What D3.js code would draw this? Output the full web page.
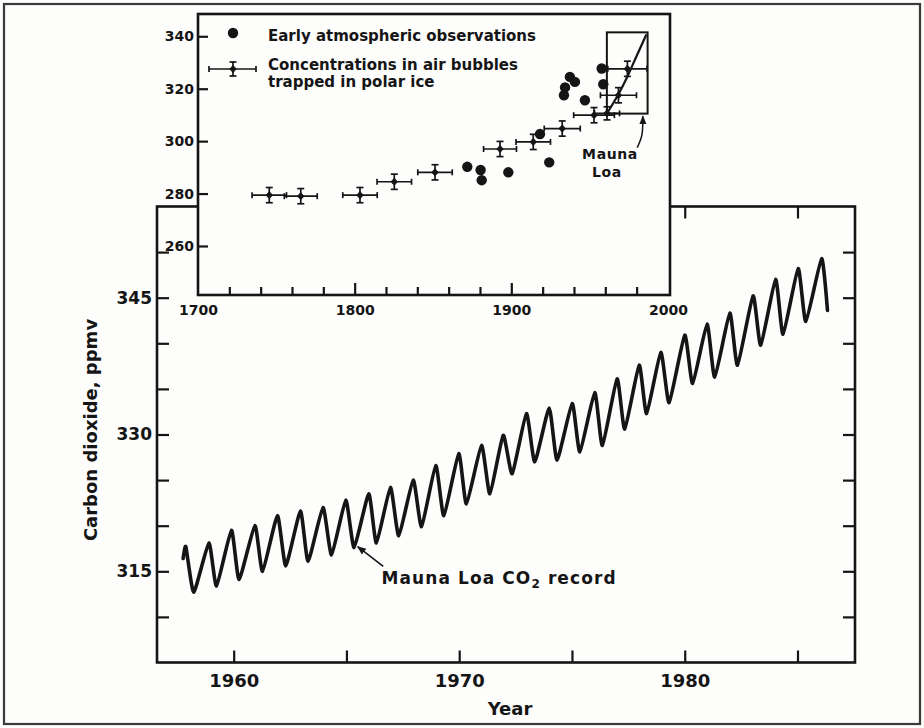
<!DOCTYPE html>
<html><head><meta charset="utf-8">
<script src="https://cdn.jsdelivr.net/npm/d3@7"></script>
<style>
html,body{margin:0;padding:0;background:#fdfdfc;}
svg{display:block;}
text{font-family:'DejaVu Sans',sans-serif;font-weight:bold;fill:#151515;}
</style></head><body>
<svg id="chart" width="924" height="728"></svg>
<script>
// ---------- Main chart data (Mauna Loa record) ----------
const mainYears = [1957.76, 1957.88, 1958.23, 1958.90, 1959.24, 1959.90, 1960.24, 1960.94, 1961.28, 1961.94,
  1962.31, 1962.96, 1963.30, 1963.96, 1964.34, 1964.97, 1965.34, 1965.99, 1966.33, 1966.95,
  1967.32, 1967.96, 1968.33, 1968.96, 1969.32, 1969.98, 1970.32, 1970.99, 1971.36, 1971.95,
  1972.35, 1972.98, 1973.35, 1973.99, 1974.34, 1975.01, 1975.35, 1976.01, 1976.35, 1977.00,
  1977.34, 1977.98, 1978.31, 1978.94, 1979.31, 1980.00, 1980.35, 1980.99, 1981.33, 1982.00,
  1982.34, 1983.03, 1983.37, 1984.03, 1984.36, 1985.03, 1985.37, 1986.07, 1986.33];
const mainCO2 = [316.4, 317.7, 312.7, 318.1, 313.4, 319.5, 314.1, 320.0, 315.0, 321.1,
  315.6, 321.6, 316.1, 322.0, 316.8, 322.8, 317.6, 323.5, 318.1, 324.2,
  318.9, 325.0, 319.9, 326.6, 321.1, 327.9, 322.4, 328.8, 323.5, 329.9,
  325.7, 332.3, 327.0, 332.9, 327.2, 333.4, 328.1, 334.6, 328.8, 336.1,
  330.6, 337.6, 332.3, 339.0, 333.5, 340.9, 335.6, 342.1, 336.3, 343.3,
  337.6, 345.2, 339.8, 347.0, 341.0, 348.2, 342.4, 349.3, 343.6];
const mainYTicks = [310, 315, 320, 325, 330, 335, 340, 345, 350];
const mainYLabels = [315, 330, 345];
const mainXTicks = [1960, 1965, 1970, 1975, 1980, 1985];
const mainXLabels = [1960, 1970, 1980];
const mainAnnotation = "Mauna Loa CO";
const mainAnnotationSub = "2";
const mainAnnotationEnd = " record";
const mainArrow = [[1966.63, 315.55], [1965.5, 317.7]];
const mainAnnotationAt = [1966.55, 313.6];

// ---------- Inset data ----------
const iceYears = [1745.5, 1765.6, 1803.4, 1825.3, 1851.3, 1892.8, 1914.0, 1932.5, 1952.8, 1961.1, 1968.4, 1974.1];
const iceCO2   = [279.4, 279.0, 279.4, 284.5, 288.1, 297.0, 299.7, 304.8, 309.9, 310.6, 317.5, 327.6];
const iceXErr  = [11, 10.5, 11, 11, 11, 10.5, 11, 11.5, 13, 8, 11.5, 12.5];
const iceYErr  = [2.9, 2.9, 2.9, 2.9, 2.9, 2.9, 2.9, 2.9, 2.9, 2.5, 2.9, 2.9];
const obsYears = [1871.9, 1880.4, 1881.1, 1898.1, 1918.3, 1924.2, 1934.3, 1937.4, 1940.6, 1933.6, 1947.0, 1957.7, 1958.7];
const obsCO2   = [290.2, 289.0, 285.1, 288.1, 302.7, 291.9, 320.5, 324.5, 322.6, 317.5, 315.6, 327.7, 321.7];
const mlTrendYears = [1961.5, 1968, 1974, 1980, 1986.2];
const mlTrendCO2   = [311, 317.5, 324.5, 332.5, 340.7];
const mlBoxYears = [1961, 1987];
const mlBoxCO2 = [310.5, 341.5];
const mlArrow = [[1980.3, 297.5], [1983.4, 302.5], [1984.0, 309.5]];
const mlLabelLines = ["Mauna", "Loa"];
const mlLabelAt = [[1963, 293.1], [1961, 286.3]];
const insetYTicks = [260, 280, 300, 320, 340];
const insetXMinor = [1720, 1740, 1760, 1780, 1820, 1840, 1860, 1880, 1920, 1940, 1960, 1980];
const insetXMajor = [1800, 1900];
const insetXLabels = [1700, 1800, 1900, 2000];
const legendLabels = ["Early atmospheric observations", "Concentrations in air bubbles", "trapped in polar ice"];

// ---------- Drawing ----------
const ink = "#151515";
const svg = d3.select("#chart");
const defs = svg.append("defs");
defs.append("marker").attr("id", "ah").attr("viewBox", "0 0 10 10")
  .attr("refX", 9).attr("refY", 5).attr("markerWidth", 9).attr("markerHeight", 9)
  .attr("markerUnits", "userSpaceOnUse").attr("orient", "auto")
  .append("path").attr("d", "M0,1 L10,5 L0,9 z").attr("fill", ink);

svg.append("rect").attr("x", 4).attr("y", 4).attr("width", 916).attr("height", 720)
  .attr("fill", "#fdfdfc").attr("stroke", "#3a3a3a").attr("stroke-width", 2.2);

// main scales
const x = d3.scaleLinear().domain([1956.6, 1987.55]).range([157, 855]);
const y = d3.scaleLinear().domain([305, 355]).range([662.5, 206.5]);
const main = svg.append("g");

function styleAxis(g, size) {
  g.select(".domain").remove();
  g.attr("color", ink).attr("font-size", size);
  g.selectAll("line").attr("stroke-width", 2.2);
}

main.append("g").attr("transform", `translate(${x.range()[0]},0)`)
  .call(d3.axisLeft(y).tickValues(mainYTicks).tickSizeInner(-12).tickSizeOuter(0).tickPadding(5)
    .tickFormat(d => mainYLabels.includes(d) ? d : ""))
  .call(g => styleAxis(g, 17));
main.append("g").attr("transform", `translate(${x.range()[1]},0)`)
  .call(d3.axisRight(y).tickValues(mainYTicks).tickSizeInner(-12).tickSizeOuter(0).tickFormat(""))
  .call(g => styleAxis(g, 17));
main.append("g").attr("transform", `translate(0,${y.range()[0]})`)
  .call(d3.axisBottom(x).tickValues(mainXTicks).tickSizeInner(-12).tickSizeOuter(0).tickPadding(12)
    .tickFormat(d => mainXLabels.includes(d) ? d : ""))
  .call(g => styleAxis(g, 18));
main.append("g").attr("transform", `translate(0,${y.range()[1]})`)
  .call(d3.axisTop(x).tickValues(mainXTicks).tickSizeInner(-12).tickSizeOuter(0).tickFormat(""))
  .call(g => styleAxis(g, 18));

main.append("rect").attr("x", x.range()[0]).attr("y", y.range()[1])
  .attr("width", x.range()[1] - x.range()[0]).attr("height", y.range()[0] - y.range()[1])
  .attr("fill", "none").attr("stroke", ink).attr("stroke-width", 2.6);

const mainData = mainYears.map((yr, i) => [yr, mainCO2[i]]);
main.append("path").datum(mainData)
  .attr("d", d3.line().x(d => x(d[0])).y(d => y(d[1])).curve(d3.curveCardinal.tension(0.5)))
  .attr("fill", "none").attr("stroke", ink).attr("stroke-width", 3.6)
  .attr("stroke-linejoin", "round").attr("stroke-linecap", "round");

main.append("text").attr("transform", "translate(97,430) rotate(-90)")
  .attr("text-anchor", "middle").attr("font-size", 18).text("Carbon dioxide, ppmv");
main.append("text").attr("x", 510).attr("y", 715).attr("text-anchor", "middle")
  .attr("font-size", 18).text("Year");

// annotation
main.append("line")
  .attr("x1", x(mainArrow[0][0])).attr("y1", y(mainArrow[0][1]))
  .attr("x2", x(mainArrow[1][0])).attr("y2", y(mainArrow[1][1]))
  .attr("stroke", ink).attr("stroke-width", 1.6).attr("marker-end", "url(#ah)");
const ann = main.append("text").attr("x", x(mainAnnotationAt[0])).attr("y", y(mainAnnotationAt[1]))
  .attr("font-size", 17).attr("letter-spacing", 1.1);
ann.append("tspan").text(mainAnnotation);
ann.append("tspan").attr("font-size", 12).attr("dy", 4).text(mainAnnotationSub);
ann.append("tspan").attr("dy", -4).text(mainAnnotationEnd);

// ---------- Inset ----------
const xi = d3.scaleLinear().domain([1700, 2001.3]).range([198, 670]);
const yi = d3.scaleLinear().domain([241.3, 348.5]).range([295, 14]);
const inset = svg.append("g");
inset.append("rect").attr("x", xi.range()[0]).attr("y", yi.range()[1])
  .attr("width", xi.range()[1] - xi.range()[0]).attr("height", yi.range()[0] - yi.range()[1])
  .attr("fill", "#fdfdfc").attr("stroke", "none");

inset.append("g").attr("transform", `translate(${xi.range()[0]},0)`)
  .call(d3.axisLeft(yi).tickValues(insetYTicks).tickSizeInner(-10).tickSizeOuter(0).tickPadding(4))
  .call(g => styleAxis(g, 14));
inset.append("g").attr("transform", `translate(0,${yi.range()[0]})`)
  .call(d3.axisBottom(xi).tickValues(insetXMinor).tickSizeInner(-8).tickSizeOuter(0).tickFormat(""))
  .call(g => styleAxis(g, 14));
inset.append("g").attr("transform", `translate(0,${yi.range()[0]})`)
  .call(d3.axisBottom(xi).tickValues(insetXMajor).tickSizeInner(-12).tickSizeOuter(0).tickFormat(""))
  .call(g => styleAxis(g, 14));
inset.append("g").attr("transform", `translate(0,${yi.range()[0]})`)
  .call(d3.axisBottom(xi).tickValues(insetXLabels).tickSizeInner(0).tickSizeOuter(0).tickPadding(10)
    .tickFormat(d3.format("d")))
  .call(g => styleAxis(g, 14));

inset.append("rect").attr("x", xi.range()[0]).attr("y", yi.range()[1])
  .attr("width", xi.range()[1] - xi.range()[0]).attr("height", yi.range()[0] - yi.range()[1])
  .attr("fill", "none").attr("stroke", ink).attr("stroke-width", 2.6);

// error-bar symbol
function errSym(g, cx, cy, x0, x1, y0, y1) {
  const s = g.append("g").attr("stroke", ink).attr("stroke-width", 1.7).attr("fill", ink);
  s.append("line").attr("x1", x0).attr("x2", x1).attr("y1", cy).attr("y2", cy);
  s.append("line").attr("x1", x0).attr("x2", x0).attr("y1", cy - 3).attr("y2", cy + 3);
  s.append("line").attr("x1", x1).attr("x2", x1).attr("y1", cy - 3).attr("y2", cy + 3);
  s.append("line").attr("x1", cx).attr("x2", cx).attr("y1", y0).attr("y2", y1);
  s.append("line").attr("x1", cx - 3.5).attr("x2", cx + 3.5).attr("y1", y0).attr("y2", y0);
  s.append("line").attr("x1", cx - 3.5).attr("x2", cx + 3.5).attr("y1", y1).attr("y2", y1);
  s.append("path").attr("d", `M${cx},${cy - 3.6}L${cx + 3.3},${cy}L${cx},${cy + 3.6}L${cx - 3.3},${cy}Z`)
    .attr("stroke-width", 0.8);
}

// Mauna Loa box and trend
inset.append("rect").attr("x", xi(mlBoxYears[0])).attr("y", yi(mlBoxCO2[1]))
  .attr("width", xi(mlBoxYears[1]) - xi(mlBoxYears[0])).attr("height", yi(mlBoxCO2[0]) - yi(mlBoxCO2[1]))
  .attr("fill", "none").attr("stroke", ink).attr("stroke-width", 2);
inset.append("path").datum(mlTrendYears.map((yr, i) => [yr, mlTrendCO2[i]]))
  .attr("d", d3.line().x(d => xi(d[0])).y(d => yi(d[1])).curve(d3.curveMonotoneX))
  .attr("fill", "none").attr("stroke", ink).attr("stroke-width", 2.2);

iceYears.forEach((yr, i) => {
  errSym(inset, xi(yr), yi(iceCO2[i]), xi(yr - iceXErr[i]), xi(yr + iceXErr[i]),
    yi(iceCO2[i] + iceYErr[i]), yi(iceCO2[i] - iceYErr[i]));
});
inset.selectAll("circle.obs").data(obsYears.map((yr, i) => [yr, obsCO2[i]])).join("circle")
  .attr("class", "obs").attr("cx", d => xi(d[0])).attr("cy", d => yi(d[1])).attr("r", 5.2).attr("fill", ink);

// Mauna Loa label + arrow
inset.append("path").datum(mlArrow)
  .attr("d", d3.line().x(d => xi(d[0])).y(d => yi(d[1])).curve(d3.curveNatural))
  .attr("fill", "none").attr("stroke", ink).attr("stroke-width", 1.5).attr("marker-end", "url(#ah)");
mlLabelLines.forEach((t, i) => {
  inset.append("text").attr("x", xi(mlLabelAt[i][0])).attr("y", yi(mlLabelAt[i][1]))
    .attr("text-anchor", "middle").attr("font-size", 14).attr("letter-spacing", 0.6).text(t);
});

// legend
const lx = xi.range()[0];
const ly = yi.range()[1];
inset.append("circle").attr("cx", lx + 35).attr("cy", ly + 19).attr("r", 5.2).attr("fill", ink);
inset.append("text").attr("x", lx + 70).attr("y", ly + 27).attr("font-size", 15).text(legendLabels[0]);
errSym(inset, lx + 35, ly + 55, lx + 11, lx + 58, ly + 48, ly + 62);
inset.append("text").attr("x", lx + 70).attr("y", ly + 56).attr("font-size", 15).text(legendLabels[1]);
inset.append("text").attr("x", lx + 70).attr("y", ly + 73).attr("font-size", 15).text(legendLabels[2]);
</script>
</body></html>
